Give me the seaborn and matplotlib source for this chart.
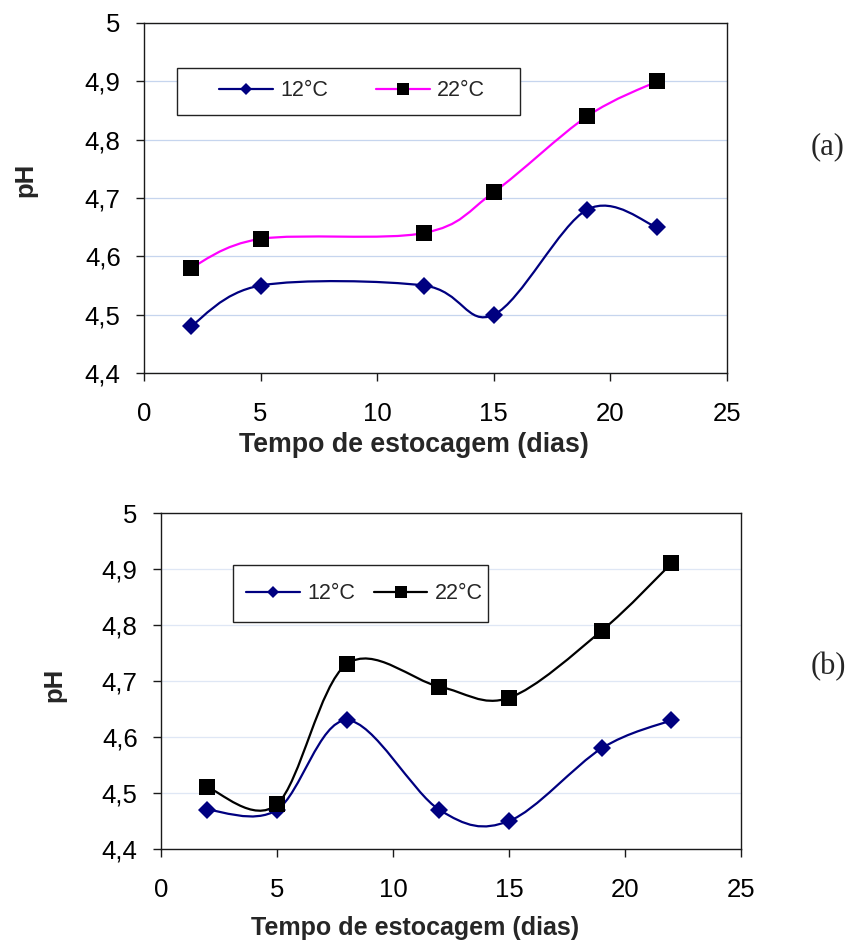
import numpy as np
import pandas as pd
import matplotlib
matplotlib.use("Agg")
import matplotlib.pyplot as plt
import seaborn as sns
from matplotlib.path import Path
from matplotlib.patches import PathPatch, Rectangle
from matplotlib.lines import Line2D

# ---------------- data ----------------
days_a = [2, 5, 12, 15, 19, 22]
ph12_a = [4.48, 4.55, 4.55, 4.50, 4.68, 4.65]
ph22_a = [4.58, 4.63, 4.64, 4.71, 4.84, 4.90]

days_b = [2, 5, 8, 12, 15, 19, 22]
ph12_b = [4.47, 4.47, 4.63, 4.47, 4.45, 4.58, 4.63]
ph22_b = [4.51, 4.48, 4.73, 4.69, 4.67, 4.79, 4.91]

series_labels = ["12°C", "22°C"]
x_ticks = [0, 5, 10, 15, 20, 25]
y_ticks = [4.4, 4.5, 4.6, 4.7, 4.8, 4.9, 5.0]
y_ticklabels = ["4,4", "4,5", "4,6", "4,7", "4,8", "4,9", "5"]
x_label = "Tempo de estocagem (dias)"
y_label = "pH"
panel_labels = ["(a)", "(b)"]

# ---------------- style ----------------
sns.set_style("white")
plt.rcParams["font.family"] = ["Liberation Sans", "DejaVu Sans"]

NAVY = "#000080"
MAGENTA = "#FF00FF"
BLACK = "#000000"


def smooth_path(x, y):
    """Excel-like smoothed line (Catmull-Rom Bezier) through the data points."""
    pts = np.column_stack([x, y]).astype(float)
    n = len(pts)
    verts = [pts[0]]
    codes = [Path.MOVETO]
    for i in range(n - 1):
        p0 = pts[max(i - 1, 0)]
        p1 = pts[i]
        p2 = pts[i + 1]
        p3 = pts[min(i + 2, n - 1)]
        c1 = p1 + (p2 - p0) / 6.0
        c2 = p2 - (p3 - p1) / 6.0
        verts += [c1, c2, p2]
        codes += [Path.CURVE4] * 3
    return Path(verts, codes)


fig = plt.figure(figsize=(8.5, 9.42), dpi=100)
ax_a = fig.add_axes([0.1694, 0.6040, 0.6859, 0.3716])
ax_b = fig.add_axes([0.1894, 0.0987, 0.6824, 0.3567])


def draw_panel(ax, days, y12, y22, c22line, grid_color, leg_center, leg_rect,
               colspacing, xlab_pos, ylab_pos, xlab_size):
    df = pd.DataFrame({"days": days, "y12": y12, "y22": y22})
    # smooth lines
    ax.add_patch(PathPatch(smooth_path(df["days"], df["y12"]), facecolor="none",
                           edgecolor=NAVY, lw=1.6, zorder=2))
    ax.add_patch(PathPatch(smooth_path(df["days"], df["y22"]), facecolor="none",
                           edgecolor=c22line, lw=1.6, zorder=2))
    # markers
    sns.lineplot(data=df, x="days", y="y12", ax=ax, marker="D", linestyle="none",
                 color=NAVY, markersize=9.3, markeredgecolor=NAVY,
                 markeredgewidth=0, zorder=4)
    sns.lineplot(data=df, x="days", y="y22", ax=ax, marker="s", linestyle="none",
                 color=BLACK, markersize=11, markeredgecolor=BLACK,
                 markeredgewidth=0, zorder=4)

    ax.set_xlim(0, 25)
    ax.set_ylim(4.4, 5.0)
    ax.set_xticks(x_ticks)
    ax.set_xticklabels([str(t) for t in x_ticks])
    ax.set_yticks(y_ticks)
    ax.set_yticklabels(y_ticklabels)
    ax.tick_params(axis="both", direction="out", length=5.8, width=1.0,
                   color="#1a1a1a", labelsize=18.5, labelcolor="black",
                   bottom=True, left=True, top=False, right=False)
    ax.tick_params(axis="x", pad=15)
    ax.tick_params(axis="y", pad=11)
    ax.set_axisbelow(True)
    ax.yaxis.grid(True, color=grid_color, lw=0.9)
    ax.xaxis.grid(False)
    for s in ax.spines.values():
        s.set_visible(True)
        s.set_color("#1a1a1a")
        s.set_linewidth(1.0)

    ax.set_xlabel(x_label, fontsize=xlab_size, fontweight="bold")
    ax.xaxis.label.set_va("baseline")
    ax.xaxis.set_label_coords(*xlab_pos)
    ax.set_ylabel(y_label, fontsize=18.5, fontweight="bold")
    ax.yaxis.label.set_va("center")
    ax.yaxis.set_label_coords(*ylab_pos)

    # legend frame
    ax.add_patch(Rectangle((leg_rect[0], leg_rect[1]), leg_rect[2], leg_rect[3],
                           transform=ax.transAxes, facecolor="white",
                           edgecolor="#222222", lw=1.0, zorder=3))
    handles = [
        Line2D([], [], color=NAVY, lw=1.6, marker="D", markersize=6.5,
               markeredgewidth=0, markerfacecolor=NAVY),
        Line2D([], [], color=c22line, lw=1.6, marker="s", markersize=9,
               markeredgewidth=0, markerfacecolor=BLACK),
    ]
    leg = ax.legend(handles, series_labels, loc="center",
                    bbox_to_anchor=leg_center, ncol=2, frameon=False,
                    fontsize=15.5, handlelength=2.5, handletextpad=0.36,
                    columnspacing=colspacing, borderpad=0, borderaxespad=0)
    leg.set_zorder(6)


draw_panel(ax_a, days_a, ph12_a, ph22_a, MAGENTA, "#c6d5ee",
           (0.357, 0.806), (0.0566, 0.737, 0.588, 0.134), 2.2,
           (0.463, -0.226), (-0.204, 0.551), 19.3)
draw_panel(ax_b, days_b, ph12_b, ph22_b, BLACK, "#dfe7f5",
           (0.351, 0.759), (0.124, 0.6756, 0.4397, 0.170), 0.85,
           (0.438, -0.256), (-0.183, 0.488), 18)

fig.text(0.974, 0.844, panel_labels[0], family=["Liberation Serif", "DejaVu Serif"],
         fontsize=22, ha="center", va="center")
fig.text(0.974, 0.292, panel_labels[1], family=["Liberation Serif", "DejaVu Serif"],
         fontsize=22, ha="center", va="center")

fig.savefig("out.png", dpi=100, facecolor="white")
